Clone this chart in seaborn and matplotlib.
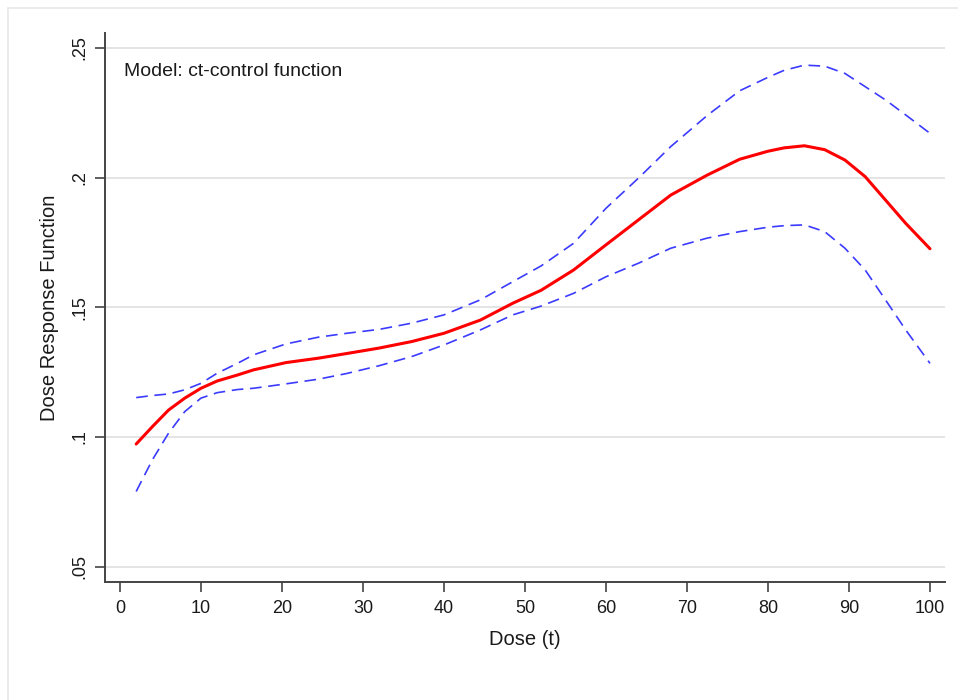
import pandas as pd
import matplotlib.pyplot as plt
import seaborn as sns

# dose response function with 95% bounds
dose = [2, 4, 6, 8, 10, 12, 14.5, 16.5, 20.5, 24.5, 28, 32, 36, 40, 44.5,
        48.5, 52, 56, 60, 64, 68, 72.5, 76.5, 80, 82, 84.5, 87, 89.5, 92,
        94.5, 97, 100]
drf = [0.0973, 0.1040, 0.1104, 0.1150, 0.1188, 0.1216, 0.1239, 0.1259,
       0.1287, 0.1304, 0.1322, 0.1343, 0.1368, 0.1400, 0.1451, 0.1516,
       0.1566, 0.1644, 0.1741, 0.1837, 0.1933, 0.2010, 0.2071, 0.2102,
       0.2115, 0.2123, 0.2108, 0.2068, 0.2004, 0.1914, 0.1824, 0.1726]
upper = [0.1152, 0.1160, 0.1166, 0.1182, 0.1207, 0.1246, 0.1284, 0.1317,
         0.1359, 0.1385, 0.1400, 0.1415, 0.1439, 0.1471, 0.1529, 0.1599,
         0.1660, 0.1747, 0.1882, 0.1998, 0.2120, 0.2240, 0.2335, 0.2387,
         0.2414, 0.2434, 0.2430, 0.2402, 0.2351, 0.2300, 0.2242, 0.2171]
lower = [0.0790, 0.0912, 0.1015, 0.1098, 0.1150, 0.1171, 0.1183, 0.1188,
         0.1205, 0.1223, 0.1245, 0.1275, 0.1310, 0.1355, 0.1413, 0.1471,
         0.1505, 0.1554, 0.1618, 0.1670, 0.1728, 0.1767, 0.1792, 0.1809,
         0.1815, 0.1818, 0.1792, 0.1728, 0.1644, 0.1529, 0.1413, 0.1284]

ytick_vals = [0.05, 0.10, 0.15, 0.20, 0.25]
ytick_labels = ['.05', '.1', '.15', '.2', '.25']
xtick_vals = list(range(0, 101, 10))

df = pd.DataFrame({'dose': dose, 'drf': drf, 'upper': upper, 'lower': lower})

sns.set_theme(style="white")
plt.rcParams['font.family'] = ['Liberation Sans', 'DejaVu Sans']

fig = plt.figure(figsize=(9.58, 7), dpi=100)
ax = fig.add_axes([0.1096, 0.1686, 0.8768, 0.7843])

# thin outer frame like the stata graph region
fig.add_artist(plt.Line2D([8/958, 8/958], [0, 1 - 8/700], color='#e8e8e8',
                          lw=1.2, transform=fig.transFigure))
fig.add_artist(plt.Line2D([8/958, 1], [1 - 8/700, 1 - 8/700], color='#e8e8e8',
                          lw=1.2, transform=fig.transFigure))

for yv in ytick_vals:
    ax.axhline(yv, color='#e2e2e2', lw=1.3, zorder=0)

blue = '#3b3bff'
sns.lineplot(data=df, x='dose', y='upper', ax=ax, color=blue, lw=1.2,
             linestyle=(0, (7, 4)))
sns.lineplot(data=df, x='dose', y='lower', ax=ax, color=blue, lw=1.2,
             linestyle=(0, (7, 4)))
sns.lineplot(data=df, x='dose', y='drf', ax=ax, color='#ff0000', lw=2.2)

ax.set_xlim(-1.85, 101.85)
ax.set_ylim(0.0441, 0.2558)
ax.set_xticks(xtick_vals)
ax.set_yticks(ytick_vals)
ax.set_yticklabels(ytick_labels, rotation=90, va='center')
ax.tick_params(axis='both', length=7, width=1.2, color='#444444',
               labelsize=13, labelcolor='#1a1a1a', direction='out',
               left=True, bottom=True)
ax.tick_params(axis='y', pad=5)
ax.tick_params(axis='x', pad=6)

for side in ['top', 'right']:
    ax.spines[side].set_visible(False)
for side in ['left', 'bottom']:
    ax.spines[side].set_color('#444444')
    ax.spines[side].set_linewidth(1.4)

ax.set_xlabel('Dose (t)', fontsize=14.5, color='#1a1a1a', labelpad=9)
ax.set_ylabel('Dose Response Function', fontsize=14.5, color='#1a1a1a',
              labelpad=9)

ax.text(0.023, 0.93, 'Model: ct-control function', transform=ax.transAxes,
        fontsize=14, color='#1a1a1a', ha='left', va='center')

fig.savefig('out.png', dpi=100)
